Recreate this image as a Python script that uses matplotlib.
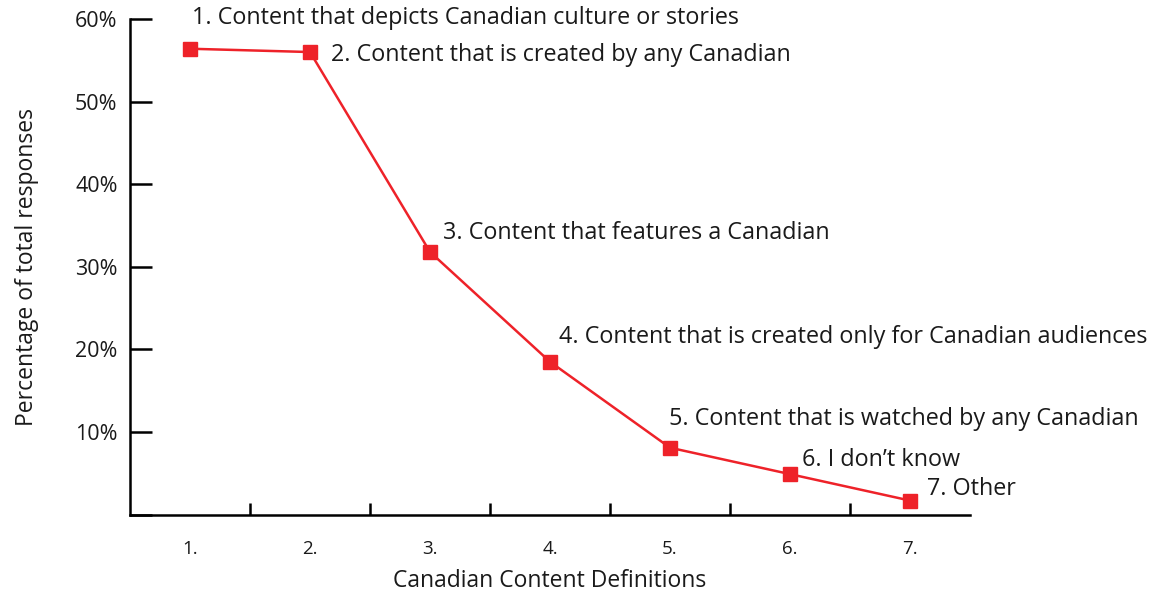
import numpy as np
import matplotlib.pyplot as plt

# survey results
categories = ["1.", "2.", "3.", "4.", "5.", "6.", "7."]
definitions = [
    "1. Content that depicts Canadian culture or stories",
    "2. Content that is created by any Canadian",
    "3. Content that features a Canadian",
    "4. Content that is created only for Canadian audiences",
    "5. Content that is watched by any Canadian",
    "6. I don\u2019t know",
    "7. Other",
]
percent = [56.4, 56.0, 31.8, 18.5, 8.1, 4.9, 1.7]

# label offsets in pixels from each point
label_dx = [2, 21, 13, 9, -1, 12, 17]
label_dy = [31, -3, 19, 25, 29, 14, 12]

RED = "#ee2229"
INK = "#1a1a1a"

plt.rcParams["font.family"] = ["Open Sans", "DejaVu Sans"]

fig = plt.figure(figsize=(11.67, 5.92), dpi=100)
ax = fig.add_axes([130 / 1167, 1 - 514.6 / 592, 840 / 1167, (514.6 - 19) / 592])

x = np.arange(1, len(categories) + 1)
ax.plot(x, percent, color=RED, lw=1.8, marker="s", ms=10, mec=RED, mfc=RED, zorder=3)

for xi, yi, txt, dx, dy in zip(x, percent, definitions, label_dx, label_dy):
    ax.annotate(txt, (xi, yi), xytext=(dx, dy), textcoords="offset pixels",
                ha="left", va="center", fontsize=16.8, color=INK, annotation_clip=False)

ax.set_xlim(0.5, 7.5)
ax.set_ylim(0, 60)

# y axis: ticks pointing inward, percent labels
ax.set_yticks(np.arange(0, 61, 10))
ax.set_yticklabels([""] + [f"{v}%" for v in range(10, 61, 10)])
ax.tick_params(axis="y", direction="in", length=16, width=1.8, pad=9,
               labelsize=15.5, labelcolor=INK)

# x axis: labels on categories, tick marks between them
ax.set_xticks(x)
ax.set_xticklabels(categories)
ax.set_xticks(np.arange(1.5, 7.5, 1), minor=True)
ax.tick_params(axis="x", which="major", length=0, pad=18, labelsize=13.5, labelcolor=INK)
ax.tick_params(axis="x", which="minor", direction="in", length=9, width=1.8)

for side in ["top", "right"]:
    ax.spines[side].set_visible(False)
for side in ["left", "bottom"]:
    ax.spines[side].set_linewidth(1.8)
    ax.spines[side].set_color("black")

ax.set_xlabel("Canadian Content Definitions", fontsize=16.5, color=INK, labelpad=8)
ax.set_ylabel("Percentage of total responses", fontsize=16.5, color=INK, labelpad=26)

fig.savefig("out.png", dpi=100)
